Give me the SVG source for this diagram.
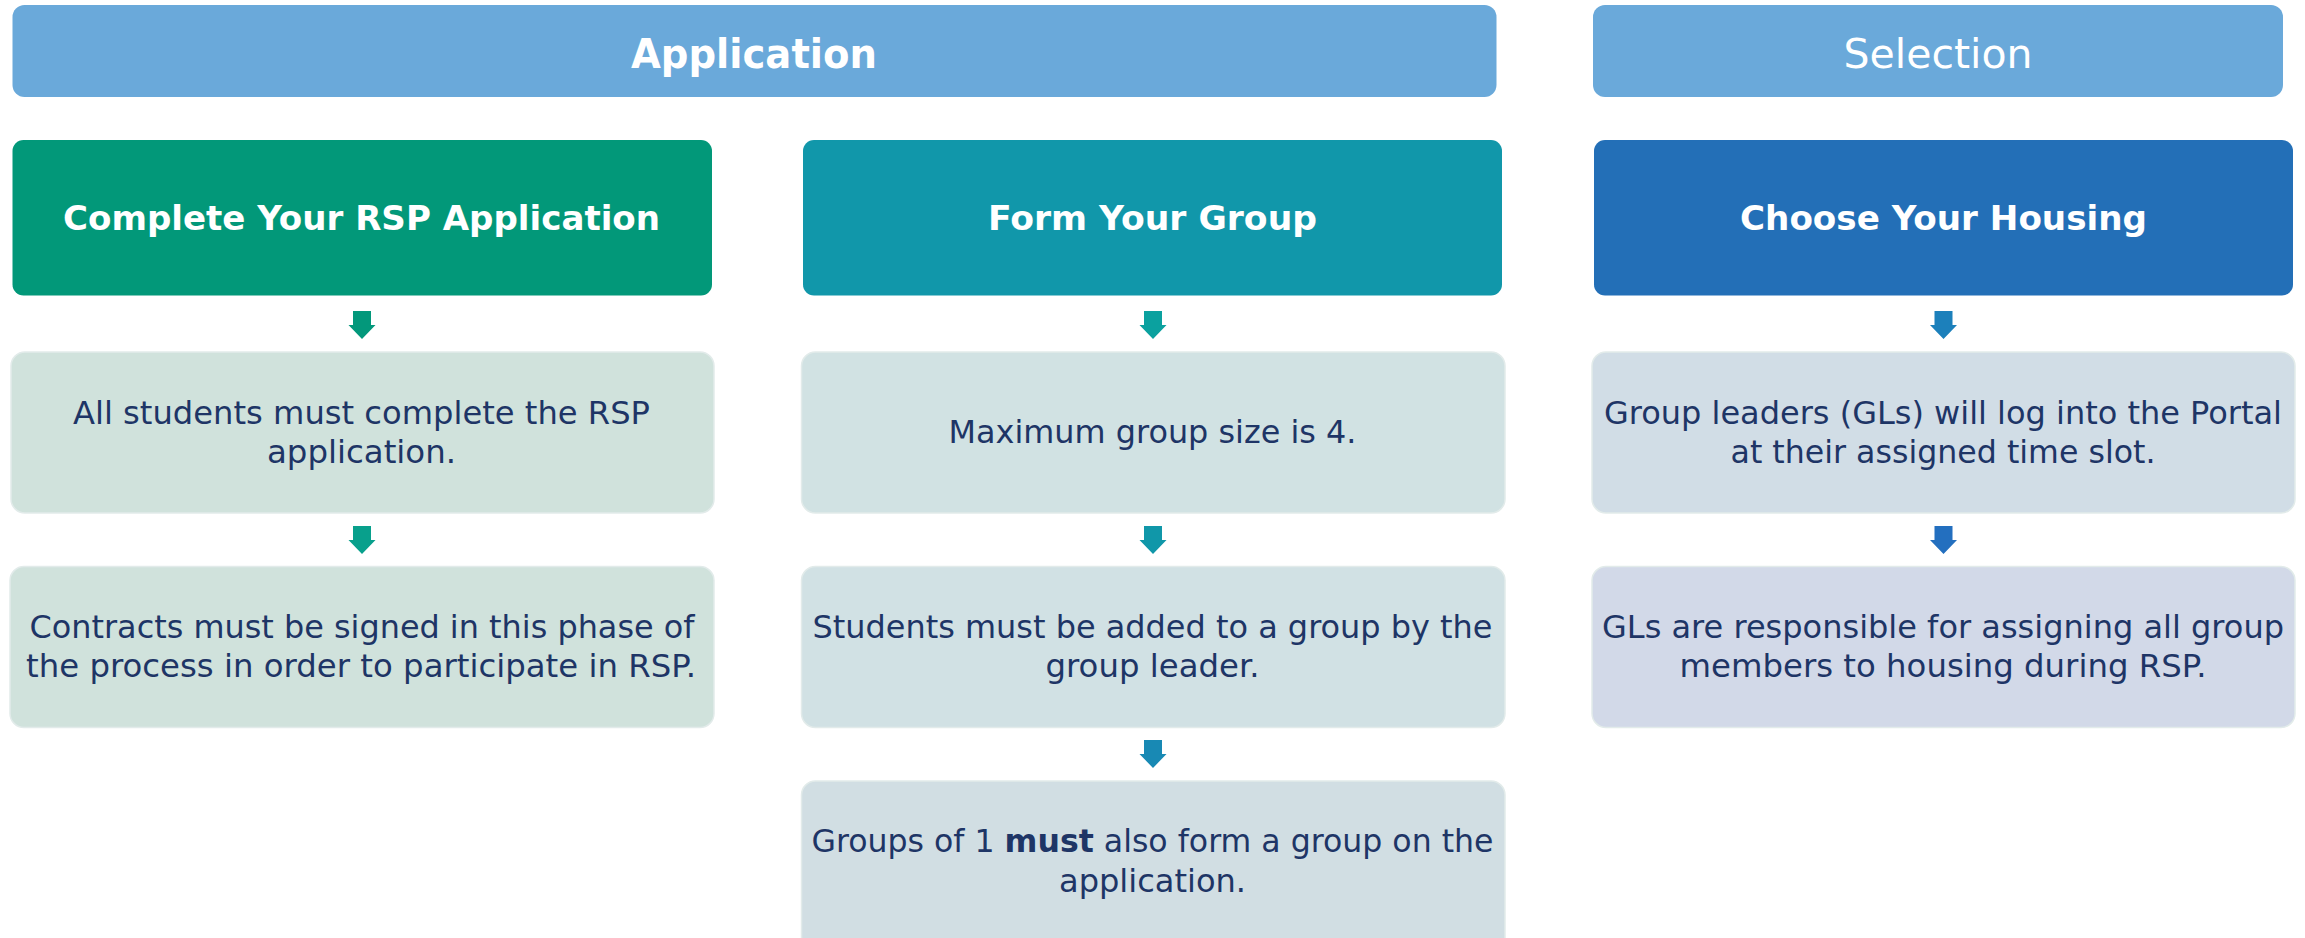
<svg xmlns="http://www.w3.org/2000/svg" width="2305" height="938" viewBox="0 0 2305 938">
<style>
  .hdr { fill: #6aa9da; }
  .hdrtxt { font-family: "DejaVu Sans", "Liberation Sans", sans-serif; font-size: 41px; fill: #ffffff; text-anchor: middle; }
  .ttl { font-family: "DejaVu Sans", "Liberation Sans", sans-serif; font-size: 33px; font-weight: bold; fill: #ffffff; text-anchor: middle; }
  .txt { font-family: "DejaVu Sans", "Liberation Sans", sans-serif; font-size: 32px; fill: #1e3566; text-anchor: middle; }
  .det { stroke: #e2ebea; stroke-width: 1.5; }
</style>
<rect width="2305" height="938" fill="#ffffff"/>

<g id="header-application">
  <rect class="hdr" x="12.5" y="5" width="1484" height="92" rx="12"/>
  <text class="hdrtxt" x="754" y="68" font-weight="bold" textLength="246" lengthAdjust="spacingAndGlyphs">Application</text>
</g>
<g id="header-selection">
  <rect class="hdr" x="1593" y="5" width="690" height="92" rx="12"/>
  <text class="hdrtxt" x="1938" y="68" textLength="189" lengthAdjust="spacingAndGlyphs">Selection</text>
</g>

<g id="title-complete">
  <rect x="12.5" y="140" width="699.5" height="155.5" rx="11" fill="#029879"/>
  <text class="ttl" x="361.5" y="230" textLength="597" lengthAdjust="spacingAndGlyphs">Complete Your RSP Application</text>
</g>
<g id="title-form">
  <rect x="803" y="140" width="699" height="155.5" rx="11" fill="#1197aa"/>
  <text class="ttl" x="1152.5" y="230" textLength="329" lengthAdjust="spacingAndGlyphs">Form Your Group</text>
</g>
<g id="title-choose">
  <rect x="1594" y="140" width="699" height="155.5" rx="11" fill="#236fb7"/>
  <text class="ttl" x="1943.5" y="230" textLength="407" lengthAdjust="spacingAndGlyphs">Choose Your Housing</text>
</g>

<g id="c1-box1">
  <rect class="det" x="11" y="352" width="703" height="161" rx="14" fill="#d0e2dc"/>
  <text class="txt" x="361.5" y="424" textLength="577" lengthAdjust="spacingAndGlyphs">All students must complete the RSP</text>
  <text class="txt" x="361.5" y="463" textLength="189" lengthAdjust="spacingAndGlyphs">application.</text>
</g>
<g id="c1-box2">
  <rect class="det" x="10" y="566.5" width="704" height="161" rx="14" fill="#d0e2dc"/>
  <text class="txt" x="362" y="638" textLength="665" lengthAdjust="spacingAndGlyphs">Contracts must be signed in this phase of</text>
  <text class="txt" x="361" y="677" textLength="670" lengthAdjust="spacingAndGlyphs">the process in order to participate in RSP.</text>
</g>

<g id="c2-box1">
  <rect class="det" x="801.5" y="352" width="703.5" height="161" rx="14" fill="#d1e2e3"/>
  <text class="txt" x="1152.5" y="443" textLength="408" lengthAdjust="spacingAndGlyphs">Maximum group size is 4.</text>
</g>
<g id="c2-box2">
  <rect class="det" x="801.5" y="566.5" width="703.5" height="161" rx="14" fill="#d1e1e4"/>
  <text class="txt" x="1152.5" y="638" textLength="680" lengthAdjust="spacingAndGlyphs">Students must be added to a group by the</text>
  <text class="txt" x="1152.5" y="677" textLength="214" lengthAdjust="spacingAndGlyphs">group leader.</text>
</g>
<g id="c2-box3">
  <rect class="det" x="801.5" y="781" width="703.5" height="170" rx="14" fill="#d1dee3"/>
  <text class="txt" x="1152.5" y="852" textLength="682" lengthAdjust="spacingAndGlyphs">Groups of 1 <tspan font-weight="bold">must</tspan> also form a group on the</text>
  <text class="txt" x="1152.5" y="892" textLength="187" lengthAdjust="spacingAndGlyphs">application.</text>
</g>

<g id="c3-box1">
  <rect class="det" x="1592" y="352" width="703" height="161" rx="14" fill="#d1dde6"/>
  <text class="txt" x="1943" y="424" textLength="678" lengthAdjust="spacingAndGlyphs">Group leaders (GLs) will log into the Portal</text>
  <text class="txt" x="1943" y="463" textLength="425" lengthAdjust="spacingAndGlyphs">at their assigned time slot.</text>
</g>
<g id="c3-box2">
  <rect class="det" x="1592" y="566.5" width="703" height="161" rx="14" fill="#d2d9e8"/>
  <text class="txt" x="1943" y="638" textLength="682" lengthAdjust="spacingAndGlyphs">GLs are responsible for assigning all group</text>
  <text class="txt" x="1943" y="677" textLength="527" lengthAdjust="spacingAndGlyphs">members to housing during RSP.</text>
</g>

<g id="connectors">
  <defs>
    <path id="arw" d="M -9 0 H 9 V 14 H 13.5 L 0 28 L -13.5 14 H -9 Z"/>
  </defs>
  <use href="#arw" x="362" y="311" fill="#03987b"/>
  <use href="#arw" x="362" y="526" fill="#08a08c"/>
  <use href="#arw" x="1153" y="311" fill="#0ba19f"/>
  <use href="#arw" x="1153" y="526" fill="#1097a9"/>
  <use href="#arw" x="1153" y="740" fill="#1889b4"/>
  <use href="#arw" x="1943.5" y="311" fill="#1c80bb"/>
  <use href="#arw" x="1943.5" y="526" fill="#236fbf"/>
</g>
</svg>
